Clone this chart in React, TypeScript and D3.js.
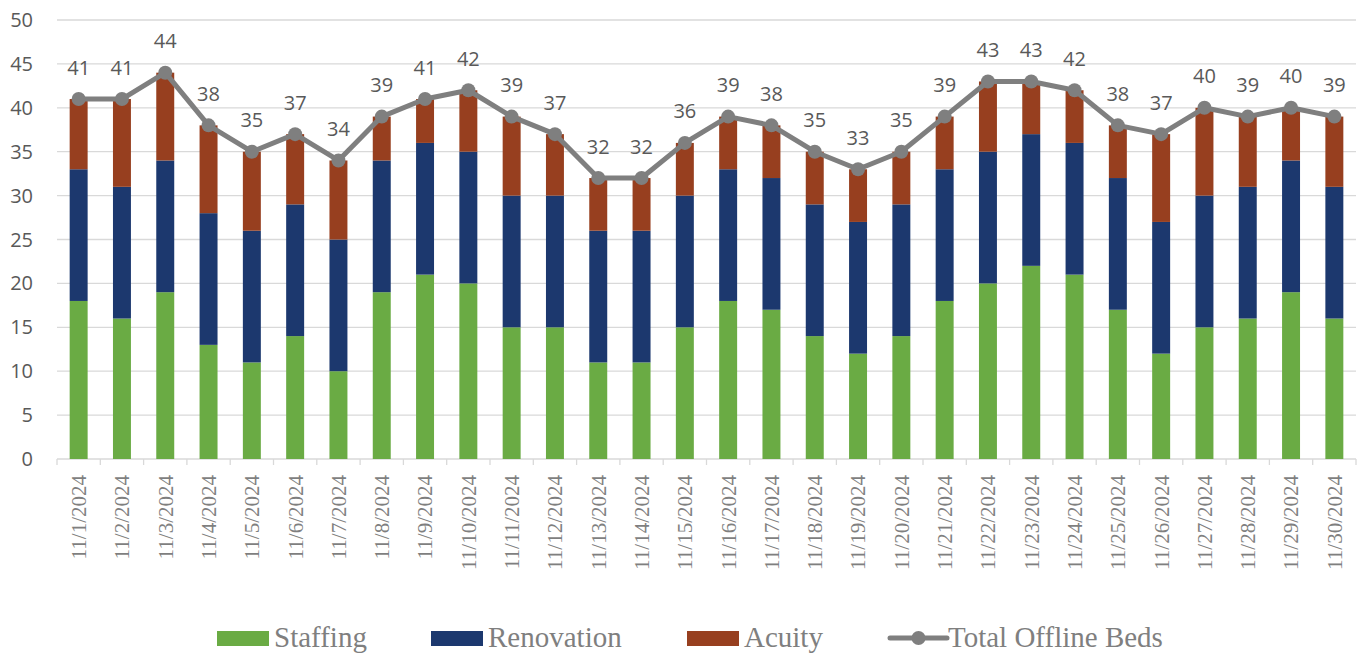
import React from "react";
import * as d3 from "d3";

const dates = [
  "11/1/2024", "11/2/2024", "11/3/2024", "11/4/2024", "11/5/2024", "11/6/2024",
  "11/7/2024", "11/8/2024", "11/9/2024", "11/10/2024", "11/11/2024", "11/12/2024",
  "11/13/2024", "11/14/2024", "11/15/2024", "11/16/2024", "11/17/2024", "11/18/2024",
  "11/19/2024", "11/20/2024", "11/21/2024", "11/22/2024", "11/23/2024", "11/24/2024",
  "11/25/2024", "11/26/2024", "11/27/2024", "11/28/2024", "11/29/2024", "11/30/2024",
];
const staffing = [18, 16, 19, 13, 11, 14, 10, 19, 21, 20, 15, 15, 11, 11, 15, 18, 17, 14, 12, 14, 18, 20, 22, 21, 17, 12, 15, 16, 19, 16];
const renovation = [15, 15, 15, 15, 15, 15, 15, 15, 15, 15, 15, 15, 15, 15, 15, 15, 15, 15, 15, 15, 15, 15, 15, 15, 15, 15, 15, 15, 15, 15];
const acuity = [8, 10, 10, 10, 9, 8, 9, 5, 5, 7, 9, 7, 6, 6, 6, 6, 6, 6, 6, 6, 6, 8, 6, 6, 6, 10, 10, 8, 6, 8];
const totalBeds = [41, 41, 44, 38, 35, 37, 34, 39, 41, 42, 39, 37, 32, 32, 36, 39, 38, 35, 33, 35, 39, 43, 43, 42, 38, 37, 40, 39, 40, 39];
const yTicks = [0, 5, 10, 15, 20, 25, 30, 35, 40, 45, 50];

const keys = ["Staffing", "Renovation", "Acuity"];
const colors: Record<string, string> = {
  Staffing: "#6aab44",
  Renovation: "#1c386e",
  Acuity: "#973f1f",
};
const lineColor = "#7f7f7f";
const textColor = "#595959";

const width = 1363;
const height = 656;
const left = 57;
const right = 1356;
const top = 20;
const bottom = 459;

const App = () => {
  const rows = dates.map((d, i) => ({
    date: d,
    Staffing: staffing[i],
    Renovation: renovation[i],
    Acuity: acuity[i],
    total: totalBeds[i],
  }));

  const x = d3.scaleBand().domain(dates).range([left, right]).padding(0);
  const y = d3.scaleLinear().domain([0, 50]).range([bottom, top]);
  const barW = x.bandwidth() * 0.415;
  const cx = (d: string) => (x(d) as number) + x.bandwidth() / 2;

  const stacked = d3.stack<any>().keys(keys)(rows);

  const line = d3
    .line<any>()
    .x((d) => cx(d.date))
    .y((d) => y(d.total));

  const legend = [
    { label: "Staffing", x: 217, type: "rect" },
    { label: "Renovation", x: 431, type: "rect" },
    { label: "Acuity", x: 687, type: "rect" },
    { label: "Total Offline Beds", x: 890, type: "line" },
  ];

  return (
    <div style={{ position: "absolute", left: 0, top: 0 }}>
      <svg width={width} height={height} style={{ display: "block", background: "#fff" }}>
        {/* gridlines */}
        {yTicks.map((t) => (
          <line
            key={"g" + t}
            x1={left}
            x2={right}
            y1={y(t)}
            y2={y(t)}
            stroke="#d9d9d9"
            strokeWidth={1.3}
          />
        ))}
        {/* x ticks */}
        {d3.range(dates.length + 1).map((i) => {
          const xx = left + i * x.bandwidth();
          return <line key={"t" + i} x1={xx} x2={xx} y1={bottom} y2={bottom + 6} stroke="#d9d9d9" strokeWidth={1.3} />;
        })}
        {/* y labels */}
        {yTicks.map((t) => (
          <text
            key={"yl" + t}
            x={33}
            y={y(t)}
            dy="0.35em"
            textAnchor="end"
            fontFamily="'Open Sans', sans-serif"
            fontSize={20}
            fill={textColor}
          >
            {t}
          </text>
        ))}
        {/* bars */}
        {stacked.map((s) => (
          <g key={s.key} fill={colors[s.key]}>
            {s.map((d, i) => (
              <rect
                key={i}
                x={cx(dates[i]) - barW / 2}
                y={y(d[1])}
                width={barW}
                height={y(d[0]) - y(d[1])}
              />
            ))}
          </g>
        ))}
        {/* total line */}
        <path d={line(rows) as string} fill="none" stroke={lineColor} strokeWidth={5} strokeLinejoin="round" />
        {rows.map((d) => (
          <circle key={"c" + d.date} cx={cx(d.date)} cy={y(d.total)} r={7} fill={lineColor} />
        ))}
        {rows.map((d) => (
          <text
            key={"l" + d.date}
            x={cx(d.date)}
            y={y(d.total) - 24.5}
            textAnchor="middle"
            fontFamily="'Open Sans', sans-serif"
            fontSize={20}
            fill={textColor}
          >
            {d.total}
          </text>
        ))}
        {/* x labels */}
        {dates.map((d) => (
          <text
            key={"xl" + d}
            transform={`translate(${cx(d)},${bottom + 16}) rotate(-90)`}
            dy="0.35em"
            textAnchor="end"
            fontFamily="'Liberation Serif', 'Times New Roman', serif"
            fontSize={21}
            fill={lineColor}
          >
            {d}
          </text>
        ))}
        {/* legend */}
        {legend.map((l) => (
          <g key={l.label}>
            {l.type === "rect" ? (
              <rect x={l.x} y={631} width={52} height={15} fill={colors[l.label]} />
            ) : (
              <g>
                <line x1={l.x} x2={l.x + 57} y1={638} y2={638} stroke={lineColor} strokeWidth={5} strokeLinecap="round" />
                <circle cx={l.x + 28.5} cy={638} r={7} fill={lineColor} />
              </g>
            )}
            <text
              x={l.x + (l.type === "rect" ? 57 : 58)}
              y={647}
              fontFamily="'Liberation Serif', 'Times New Roman', serif"
              fontSize={29}
              fill={lineColor}
            >
              {l.label}
            </text>
          </g>
        ))}
      </svg>
    </div>
  );
};

export default App;
